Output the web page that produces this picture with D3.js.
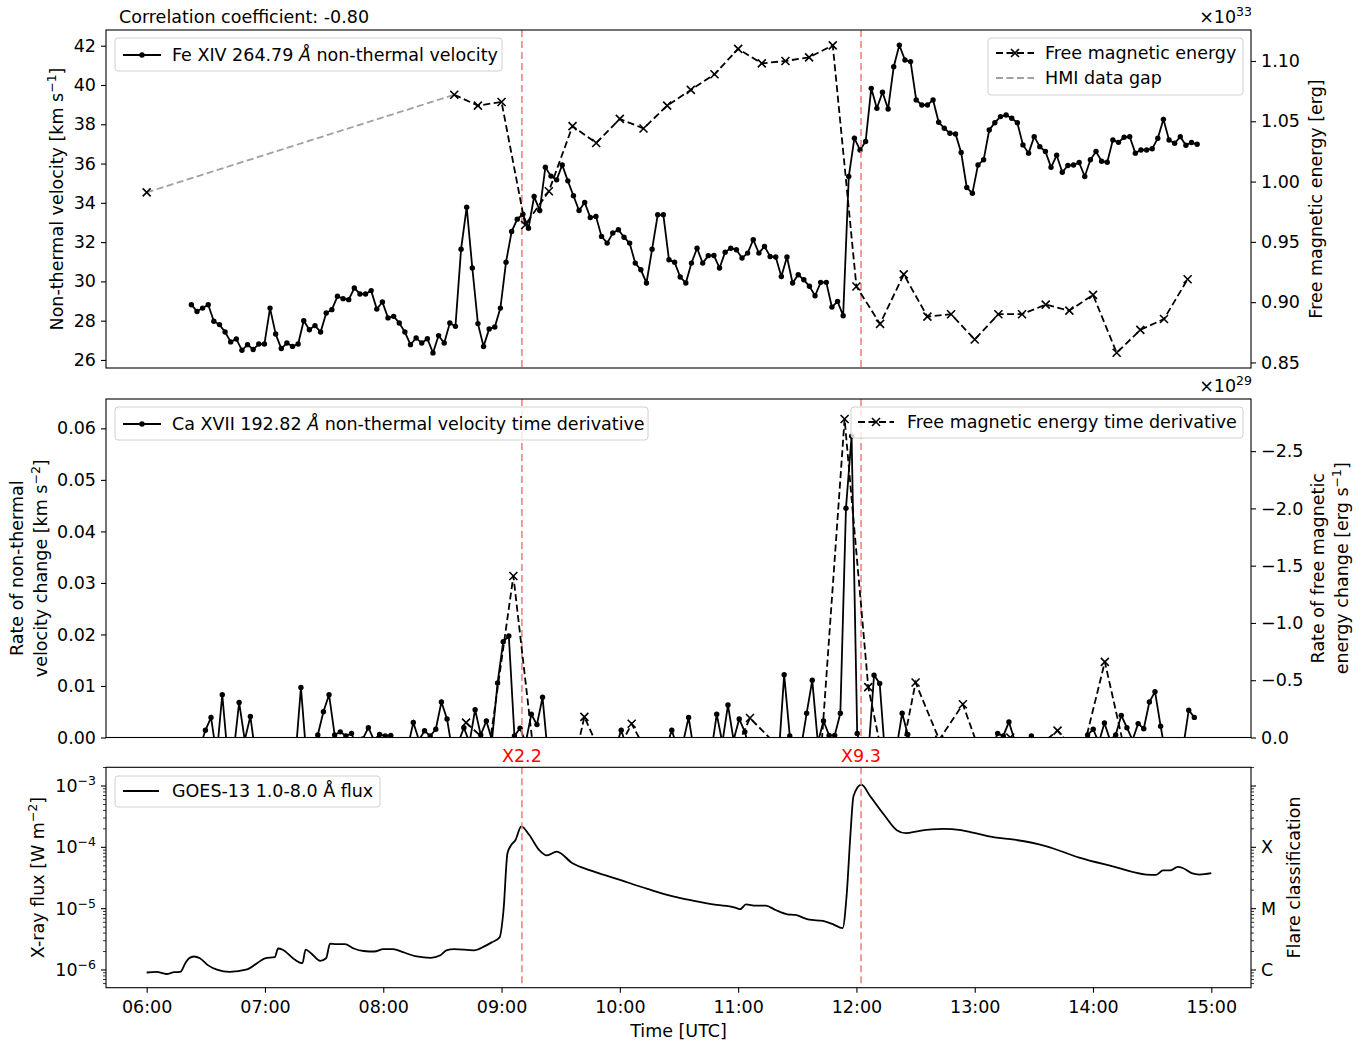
<!DOCTYPE html>
<html>
<head>
<meta charset="utf-8">
<script src="https://cdn.jsdelivr.net/npm/d3@7"></script>
<style>
  body { margin: 0; background: #fff; }
  svg { font-family: "DejaVu Sans", sans-serif; }
</style>
</head>
<body>
<div id="chart"></div>
<script>
// EIS raster timing (2017-09-06)
const eisStart = "06:22:40";
const eisCadence = 171; // seconds between rasters

// Fe XIV 264.79 non-thermal velocity [km/s], one value per raster
const feXivVelocity = [
  28.81, 28.47, 28.64, 28.81, 27.97, 27.80, 27.42, 26.92, 27.07, 26.49,
  26.78, 26.53, 26.81, 26.81, 28.64, 27.32, 26.58, 26.86, 26.69, 26.81,
  28.00, 27.54, 27.75, 27.42, 28.39, 28.56, 29.24, 29.12, 29.07, 29.66,
  29.36, 29.36, 29.53, 28.59, 28.95, 28.14, 28.22, 27.88, 27.42, 26.78,
  27.12, 26.86, 27.08, 26.36, 27.24, 26.86, 27.88, 27.71, 31.64, 33.78,
  30.68, 27.85, 26.69, 27.58, 27.68, 28.64, 30.98, 32.54, 33.17, 33.42,
  32.71, 34.32, 33.61, 35.81, 35.36, 35.17, 35.93, 35.12, 34.36, 33.61,
  34.02, 33.25, 33.31, 32.29, 31.95, 32.46, 32.63, 32.25, 31.95, 30.93,
  30.59, 29.92, 31.64, 33.39, 33.39, 31.10, 30.98, 30.22, 29.92, 30.93,
  31.69, 30.93, 31.31, 31.32, 30.68, 31.49, 31.69, 31.61, 31.19, 31.44,
  32.12, 31.44, 31.78, 31.27, 31.24, 30.25, 31.24, 29.92, 30.34, 30.08,
  29.75, 29.27, 29.95, 29.95, 28.69, 28.98, 28.25, 35.34, 37.29, 36.69,
  37.12, 39.83, 38.81, 39.63, 38.78, 40.93, 42.03, 41.27, 41.19, 39.24,
  38.98, 38.98, 39.24, 38.10, 37.80, 37.54, 37.51, 36.56, 34.78, 34.49,
  35.93, 36.19, 37.71, 38.08, 38.39, 38.47, 38.31, 38.08, 36.95, 36.53,
  37.37, 36.86, 36.61, 35.81, 36.42, 35.56, 35.90, 35.93, 36.05, 35.34,
  36.19, 36.61, 36.12, 36.07, 37.20, 37.08, 37.34, 37.37, 36.53, 36.69,
  36.69, 36.75, 37.29, 38.25, 37.20, 37.03, 37.37, 36.93, 37.07, 36.98
];

// Ca XVII 192.82 velocity time derivative [km/s^2], between rasters
const caXviiRate = [
  -0.002, -0.002, 0.0014, 0.0039, -0.0035, 0.0083, -0.004, -0.003, 0.0068, -0.0005,
  0.0041, -0.004, -0.003, -0.003, -0.003, -0.003, -0.003, -0.003, -0.004, 0.0097,
  -0.004, -0.002, 0.0005, 0.005, 0.0083, 0.0005, 0.0011, 0.0003, 0.0008, -0.002,
  -0.0003, 0.0019, -0.0005, 0.0006, 0.0003, 0.0004, -0.002, -0.003, -0.002, 0.0029,
  -0.0005, 0.0013, 0.0003, 0.0016, 0.0069, 0.0036, -0.003, -0.001, 0.0019, -0.001,
  0.0054, 0.0005, 0.0032, -0.0005, 0.0106, 0.0186, 0.0197, 0.0003, 0.0018, -0.001,
  0.0045, 0.0025, 0.0078, -0.004, -0.003, -0.003, -0.003, -0.003, -0.003, -0.003,
  -0.003, -0.003, -0.003, -0.003, -0.003, -0.002, 0.0014, -0.002, -0.003, -0.003,
  -0.003, -0.003, -0.003, -0.003, -0.002, 0.0014, -0.002, -0.001, 0.0039, -0.003,
  -0.003, -0.003, -0.003, 0.0045, -0.001, 0.0063, -0.0005, 0.0036, 0.0011, -0.003,
  -0.003, -0.003, -0.003, -0.003, -0.004, 0.0122, 0.0003, -0.003, -0.002, 0.0047,
  0.0111, -0.001, 0.0032, 0.0004, 0.0004, 0.0047, 0.0445, 0.0585, 0.0008, -0.004,
  -0.003, 0.0121, 0.0105, -0.004, -0.003, -0.002, 0.0047, 0.0006, -0.003, -0.003,
  -0.003, -0.003, -0.003, -0.003, -0.003, -0.003, -0.003, -0.003, -0.003, -0.003,
  -0.003, -0.003, -0.002, 0.0008, 0.0003, 0.003, -0.0005, -0.003, -0.002, 0.0003,
  -0.003, -0.003, -0.003, -0.003, -0.003, -0.003, -0.003, -0.003, -0.002, 0.0005,
  0.0016, -0.001, 0.0028, -0.0005, 0.0005, 0.0043, 0.0019, -0.0005, 0.0027, 0.0017,
  0.0069, 0.0089, 0.0022, -0.004, -0.003, -0.003, -0.002, 0.0053, 0.0039
];

// HMI free magnetic energy [1e33 erg]; first point is before the data gap
const fmeTimes = ["06:00", "08:36", "08:48", "09:00", "09:12", "09:24", "09:36", "09:48", "10:00", "10:12",
  "10:24", "10:36", "10:48", "11:00", "11:12", "11:24", "11:36", "11:48", "12:00", "12:12",
  "12:24", "12:36", "12:48", "13:00", "13:12", "13:24", "13:36", "13:48", "14:00", "14:12",
  "14:24", "14:36", "14:48"];
const fmeValues = [0.991, 1.072, 1.063, 1.066, 0.964, 0.992, 1.046, 1.032, 1.052, 1.044,
  1.063, 1.076, 1.089, 1.110, 1.098, 1.100, 1.103, 1.113, 0.913, 0.882,
  0.923, 0.888, 0.890, 0.869, 0.890, 0.890, 0.898, 0.893, 0.906, 0.858,
  0.877, 0.886, 0.919];

// free magnetic energy time derivative [1e29 erg/s]
const fmeRateTimes = ["08:42", "08:54", "09:06", "09:18", "09:30", "09:42", "09:54", "10:06", "10:18", "10:30",
  "10:42", "10:54", "11:06", "11:18", "11:30", "11:42", "11:54", "12:06", "12:18", "12:30",
  "12:42", "12:54", "13:06", "13:18", "13:30", "13:42", "13:54", "14:06", "14:18", "14:30", "14:42"];
const fmeRateValues = [-0.13, 0.06, -1.41, 0.39, 0.74, -0.18, 0.28, -0.12, 0.27, 0.18,
  0.18, 0.29, -0.17, 0.04, 0.04, 0.14, -2.78, -0.44, 0.57, -0.48,
  0.02, -0.29, 0.29, 0.0, 0.11, -0.06, 0.18, -0.66, 0.26, 0.12, 0.46];

// GOES-13 1.0-8.0 A flux [W/m^2]
const goesTimes = ["06:00", "06:05", "06:10", "06:14", "06:17", "06:19:36", "06:21:30", "06:24", "06:27", "06:31",
  "06:36", "06:42", "06:51", "06:56", "07:00", "07:05", "07:06:40", "07:09", "07:15", "07:19",
  "07:20:36", "07:23:30", "07:28", "07:31", "07:33", "07:36", "07:40:30", "07:45", "07:50", "07:55:30",
  "08:00", "08:05", "08:10", "08:17", "08:24", "08:29", "08:32", "08:36", "08:46", "08:51",
  "08:55", "08:59", "09:01", "09:03", "09:05", "09:07", "09:10", "09:14", "09:19", "09:23",
  "09:28", "09:36", "09:45", "09:58", "10:14", "10:27", "10:37", "10:49", "10:58", "11:01",
  "11:04", "11:09", "11:14", "11:19", "11:25", "11:29", "11:36", "11:43", "11:48", "11:53",
  "11:55", "11:57", "11:58:30", "12:02:30", "12:07", "12:14", "12:20:30", "12:25", "12:32", "12:44",
  "12:53", "12:59", "13:10", "13:20", "13:36", "13:53", "14:10", "14:27", "14:32", "14:35:30",
  "14:39", "14:43", "14:45:30", "14:50", "14:54", "15:00"];
const goesFlux = [9.1e-7, 9.3e-7, 8.6e-7, 9.2e-7, 9.3e-7, 1.29e-6, 1.55e-6, 1.66e-6, 1.55e-6, 1.2e-6,
  1.0e-6, 9.3e-7, 1.02e-6, 1.29e-6, 1.55e-6, 1.62e-6, 2.24e-6, 2.14e-6, 1.48e-6, 1.29e-6,
  2.14e-6, 1.86e-6, 1.41e-6, 1.55e-6, 2.69e-6, 2.63e-6, 2.63e-6, 2.24e-6, 2.04e-6, 2.0e-6,
  2.19e-6, 2.19e-6, 1.95e-6, 1.66e-6, 1.58e-6, 1.74e-6, 2.09e-6, 2.19e-6, 2.09e-6, 2.4e-6,
  2.82e-6, 3.4e-6, 9.5e-6, 8.0e-5, 1.1e-4, 1.3e-4, 2.2e-4, 1.6e-4, 9.1e-5, 7.4e-5,
  8.5e-5, 5.5e-5, 4.2e-5, 3.1e-5, 2.1e-5, 1.58e-5, 1.35e-5, 1.15e-5, 1.05e-5, 9.8e-6,
  1.17e-5, 1.12e-5, 1.12e-5, 9.5e-6, 8.1e-6, 7.9e-6, 6.6e-6, 6.3e-6, 5.6e-6, 4.8e-6,
  1.6e-5, 1.7e-4, 6.8e-4, 1.05e-3, 6.8e-4, 3.4e-4, 1.9e-4, 1.7e-4, 1.86e-4, 2.0e-4,
  1.9e-4, 1.74e-4, 1.45e-4, 1.33e-4, 1.05e-4, 6.8e-5, 4.9e-5, 3.6e-5, 3.55e-5, 4.2e-5,
  4.2e-5, 4.8e-5, 4.6e-5, 3.8e-5, 3.6e-5, 3.8e-5];

const flareLabels = ["X2.2", "X9.3"];
const flarePeaks = ["09:10:20", "12:02:20"];
const hourTicks = ["06:00", "07:00", "08:00", "09:00", "10:00", "11:00", "12:00", "13:00", "14:00", "15:00"];
const velocityTicks = [26, 28, 30, 32, 34, 36, 38, 40, 42];
const energyTicks = [0.85, 0.90, 0.95, 1.00, 1.05, 1.10];
const velRateTicks = [0, 0.01, 0.02, 0.03, 0.04, 0.05, 0.06];
const energyRateTicks = [0, -0.5, -1.0, -1.5, -2.0, -2.5];
const fluxTicks = [1e-6, 1e-5, 1e-4, 1e-3];
const classNames = ["C", "M", "X", ""];

const day = "2017-09-06T";
const parseTime = s => new Date(day + (s.length === 5 ? s + ":00" : s) + "Z");

const W = 1362, H = 1042;
const left = 106, right = 1251;
const topP = [30, 368], midP = [399, 737.5], botP = [767.3, 987.7];
const FS = 17.5;

const svg = d3.select("#chart").append("svg").attr("width", W).attr("height", H);

const x = d3.scaleUtc()
  .domain([parseTime("05:39:22"), parseTime("15:20:08")])
  .range([left, right]);

const t0 = parseTime(eisStart);
const velData = feXivVelocity.map((v, i) => ({ t: new Date(+t0 + i * eisCadence * 1000), v }));
const rateData = caXviiRate.map((v, i) => ({ t: new Date(+t0 + (i + 0.5) * eisCadence * 1000), v }));
const fmeData = fmeTimes.map((s, i) => ({ t: parseTime(s), v: fmeValues[i] }));
const fmeRateData = fmeRateTimes.map((s, i) => ({ t: parseTime(s), v: fmeRateValues[i] }));
const goesData = goesTimes.map((s, i) => ({ t: parseTime(s), v: goesFlux[i] }));

function clip(id, p) {
  svg.append("clipPath").attr("id", id).append("rect")
    .attr("x", left).attr("y", p[0]).attr("width", right - left).attr("height", p[1] - p[0]);
  return svg.append("g").attr("clip-path", `url(#${id})`);
}

function styleAxis(g) {
  g.attr("font-size", FS).attr("font-family", null);
  g.select(".domain").remove();
  g.selectAll(".tick line").attr("stroke", "#000").attr("stroke-width", 1.1);
  g.selectAll(".tick text").attr("fill", "#000");
}

function xMarker(sel, data, xs, ys) {
  sel.selectAll(null).data(data).enter().append("path")
    .attr("transform", d => `translate(${xs(d)},${ys(d)})`)
    .attr("d", "M-4,-4L4,4M-4,4L4,-4")
    .attr("stroke", "#000").attr("stroke-width", 1.6).attr("fill", "none");
}

// text with superscript / italic parts: parts = [[text, isSup, isItalic], ...]
function richText(g, parts) {
  let up = false;
  parts.forEach(([s, sup, italic]) => {
    const ts = g.append("tspan").text(s);
    if (sup && !up) { ts.attr("dy", -7).attr("font-size", 12.5); up = true; }
    else if (sup) { ts.attr("font-size", 12.5); }
    else if (up) { ts.attr("dy", 7); up = false; }
    if (italic) ts.attr("font-style", "italic");
  });
  return g;
}

function vLabel(xPos, yPos, parts) {
  const t = svg.append("text")
    .attr("transform", `translate(${xPos},${yPos}) rotate(-90)`)
    .attr("text-anchor", "middle").attr("font-size", FS).attr("fill", "#000");
  richText(t, parts);
}

function flareLines(g, p) {
  flarePeaks.forEach(s => {
    g.append("line")
      .attr("x1", x(parseTime(s))).attr("x2", x(parseTime(s)))
      .attr("y1", p[0]).attr("y2", p[1])
      .attr("stroke", "#f27a7a").attr("stroke-width", 1.5).attr("stroke-dasharray", "7,4");
  });
}

function frame(p) {
  svg.append("rect").attr("x", left).attr("y", p[0]).attr("width", right - left).attr("height", p[1] - p[0])
    .attr("fill", "none").attr("stroke", "#000").attr("stroke-width", 1.1);
}

function legendBox(x0, y0, w, h) {
  const g = svg.append("g");
  g.append("rect").attr("x", x0).attr("y", y0).attr("width", w).attr("height", h).attr("rx", 3)
    .attr("fill", "#fff").attr("fill-opacity", 0.8).attr("stroke", "#d0d0d0").attr("stroke-width", 1);
  return g;
}

// ---------- top panel ----------
const yVel = d3.scaleLinear().domain([25.59, 42.8]).range([topP[1], topP[0]]);
const yFme = d3.scaleLinear().domain([0.8454, 1.1257]).range([topP[1], topP[0]]);
const gTop = clip("clipTop", topP);

gTop.append("path").datum(velData)
  .attr("d", d3.line().x(d => x(d.t)).y(d => yVel(d.v)))
  .attr("fill", "none").attr("stroke", "#000").attr("stroke-width", 1.8);
gTop.selectAll(null).data(velData).enter().append("circle")
  .attr("cx", d => x(d.t)).attr("cy", d => yVel(d.v)).attr("r", 2.7).attr("fill", "#000");
flareLines(gTop, topP);
gTop.append("path").datum(fmeData.slice(0, 2))
  .attr("d", d3.line().x(d => x(d.t)).y(d => yFme(d.v)))
  .attr("fill", "none").attr("stroke", "#a0a0a0").attr("stroke-width", 1.8).attr("stroke-dasharray", "7,3.5");
gTop.append("path").datum(fmeData.slice(1))
  .attr("d", d3.line().x(d => x(d.t)).y(d => yFme(d.v)))
  .attr("fill", "none").attr("stroke", "#000").attr("stroke-width", 1.8).attr("stroke-dasharray", "7,3.5");
xMarker(gTop, fmeData, d => x(d.t), d => yFme(d.v));

svg.append("g").attr("transform", `translate(${left},0)`)
  .call(d3.axisLeft(yVel).tickValues(velocityTicks).tickSize(5).tickPadding(5).tickFormat(d3.format("d")))
  .call(styleAxis);
svg.append("g").attr("transform", `translate(${right},0)`)
  .call(d3.axisRight(yFme).tickValues(energyTicks).tickSize(5).tickPadding(5).tickFormat(d3.format(".2f")))
  .call(styleAxis);
frame(topP);

svg.append("text").attr("x", 119).attr("y", 23).attr("font-size", FS).text("Correlation coefficient: -0.80");
richText(svg.append("text").attr("x", 1252).attr("y", 23).attr("text-anchor", "end").attr("font-size", FS),
  [["×10"], ["33", true]]);
vLabel(63, (topP[0] + topP[1]) / 2, [["Non-thermal velocity [km s"], ["−1", true], ["]"]]);
vLabel(1322, (topP[0] + topP[1]) / 2, [["Free magnetic energy [erg]"]]);

let lg = legendBox(115, 38, 387, 33);
lg.append("line").attr("x1", 123).attr("x2", 161).attr("y1", 55).attr("y2", 55).attr("stroke", "#000").attr("stroke-width", 1.8);
lg.append("circle").attr("cx", 142).attr("cy", 55).attr("r", 2.7);
richText(lg.append("text").attr("x", 172).attr("y", 61).attr("font-size", FS),
  [["Fe XIV 264.79 "], ["Å", false, true], [" non-thermal velocity"]]);

lg = legendBox(988, 38, 255, 57);
lg.append("line").attr("x1", 996).attr("x2", 1034).attr("y1", 53).attr("y2", 53)
  .attr("stroke", "#000").attr("stroke-width", 1.8).attr("stroke-dasharray", "7,3.5");
xMarker(lg, [0], () => 1015, () => 53);
lg.append("text").attr("x", 1045).attr("y", 59).attr("font-size", FS).text("Free magnetic energy");
lg.append("line").attr("x1", 996).attr("x2", 1034).attr("y1", 78).attr("y2", 78)
  .attr("stroke", "#a0a0a0").attr("stroke-width", 1.8).attr("stroke-dasharray", "7,3.5");
lg.append("text").attr("x", 1045).attr("y", 84).attr("font-size", FS).text("HMI data gap");

// ---------- middle panel ----------
const yRate = d3.scaleLinear().domain([0, 0.0657]).range([midP[1], midP[0]]);
const yFmeRate = d3.scaleLinear().domain([0, -2.955]).range([midP[1], midP[0]]);
const gMid = clip("clipMid", midP);

gMid.append("path").datum(rateData)
  .attr("d", d3.line().x(d => x(d.t)).y(d => yRate(d.v)))
  .attr("fill", "none").attr("stroke", "#000").attr("stroke-width", 1.8);
gMid.selectAll(null).data(rateData).enter().append("circle")
  .attr("cx", d => x(d.t)).attr("cy", d => yRate(d.v)).attr("r", 2.7).attr("fill", "#000");
flareLines(gMid, midP);
gMid.append("path").datum(fmeRateData)
  .attr("d", d3.line().x(d => x(d.t)).y(d => yFmeRate(d.v)))
  .attr("fill", "none").attr("stroke", "#000").attr("stroke-width", 1.8).attr("stroke-dasharray", "7,3.5");
xMarker(gMid, fmeRateData, d => x(d.t), d => yFmeRate(d.v));

svg.append("g").attr("transform", `translate(${left},0)`)
  .call(d3.axisLeft(yRate).tickValues(velRateTicks).tickSize(5).tickPadding(5).tickFormat(d3.format(".2f")))
  .call(styleAxis);
svg.append("g").attr("transform", `translate(${right},0)`)
  .call(d3.axisRight(yFmeRate).tickValues(energyRateTicks).tickSize(5).tickPadding(5).tickFormat(d3.format(".1f")))
  .call(styleAxis);
frame(midP);

richText(svg.append("text").attr("x", 1252).attr("y", 392).attr("text-anchor", "end").attr("font-size", FS),
  [["×10"], ["29", true]]);
const midC = (midP[0] + midP[1]) / 2;
vLabel(23, midC, [["Rate of non-thermal"]]);
vLabel(47, midC, [["velocity change [km s"], ["−2", true], ["]"]]);
vLabel(1324, midC, [["Rate of free magnetic"]]);
vLabel(1348, midC, [["energy change [erg s"], ["−1", true], ["]"]]);

lg = legendBox(115, 407, 533, 33);
lg.append("line").attr("x1", 123).attr("x2", 161).attr("y1", 424).attr("y2", 424).attr("stroke", "#000").attr("stroke-width", 1.8);
lg.append("circle").attr("cx", 142).attr("cy", 424).attr("r", 2.7);
richText(lg.append("text").attr("x", 172).attr("y", 430).attr("font-size", FS),
  [["Ca XVII 192.82 "], ["Å", false, true], [" non-thermal velocity time derivative"]]);

lg = legendBox(851, 407, 392, 31);
lg.append("line").attr("x1", 858).attr("x2", 894).attr("y1", 422).attr("y2", 422)
  .attr("stroke", "#000").attr("stroke-width", 1.8).attr("stroke-dasharray", "7,3.5");
xMarker(lg, [0], () => 876, () => 422);
lg.append("text").attr("x", 907).attr("y", 428).attr("font-size", FS).text("Free magnetic energy time derivative");

// ---------- bottom panel ----------
const yFlux = d3.scaleLog().domain([Math.pow(10, -6.289), Math.pow(10, -2.695)]).range([botP[1], botP[0]]);
const gBot = clip("clipBot", botP);

gBot.append("path").datum(goesData)
  .attr("d", d3.line().curve(d3.curveMonotoneX).x(d => x(d.t)).y(d => yFlux(d.v)))
  .attr("fill", "none").attr("stroke", "#000").attr("stroke-width", 1.8);
flareLines(gBot, botP);

const minorTicks = [];
[-7, -6, -5, -4, -3].forEach(e => {
  for (let m = 2; m <= 9; m++) {
    const v = m * Math.pow(10, e);
    if (v > yFlux.domain()[0] && v < yFlux.domain()[1]) minorTicks.push(v);
  }
});
[[left, -1], [right, 1]].forEach(([xp, dir]) => {
  svg.append("g").selectAll("line").data(minorTicks).enter().append("line")
    .attr("x1", xp).attr("x2", xp + dir * 3).attr("y1", d => yFlux(d)).attr("y2", d => yFlux(d))
    .attr("stroke", "#000").attr("stroke-width", 0.8);
  svg.append("g").selectAll("line").data(fluxTicks).enter().append("line")
    .attr("x1", xp).attr("x2", xp + dir * 5).attr("y1", d => yFlux(d)).attr("y2", d => yFlux(d))
    .attr("stroke", "#000").attr("stroke-width", 1.1);
});
fluxTicks.forEach((v, i) => {
  richText(svg.append("text").attr("x", left - 10).attr("y", yFlux(v) + 6).attr("text-anchor", "end").attr("font-size", FS),
    [["10"], ["−" + (-Math.log10(v)).toFixed(0), true]]);
  svg.append("text").attr("x", right + 10).attr("y", yFlux(v) + 6).attr("font-size", FS).text(classNames[i]);
});

svg.append("g").attr("transform", `translate(0,${botP[1]})`)
  .call(d3.axisBottom(x).tickValues(hourTicks.map(parseTime)).tickSize(5).tickPadding(8)
    .tickFormat((d, i) => hourTicks[i]))
  .call(styleAxis);
frame(botP);

flarePeaks.forEach((s, i) => {
  svg.append("text").attr("x", x(parseTime(s))).attr("y", 762).attr("text-anchor", "middle")
    .attr("font-size", FS).attr("fill", "#ff0000").text(flareLabels[i]);
});

const botC = (botP[0] + botP[1]) / 2;
vLabel(44, botC, [["X-ray flux [W m"], ["−2", true], ["]"]]);
vLabel(1300, botC, [["Flare classification"]]);
svg.append("text").attr("x", (left + right) / 2).attr("y", 1037).attr("text-anchor", "middle")
  .attr("font-size", FS).text("Time [UTC]");

lg = legendBox(115, 776, 265, 31);
lg.append("line").attr("x1", 123).attr("x2", 159).attr("y1", 791).attr("y2", 791).attr("stroke", "#000").attr("stroke-width", 1.8);
lg.append("text").attr("x", 172).attr("y", 797).attr("font-size", FS).text("GOES-13 1.0-8.0 Å flux");
</script>
</body>
</html>
